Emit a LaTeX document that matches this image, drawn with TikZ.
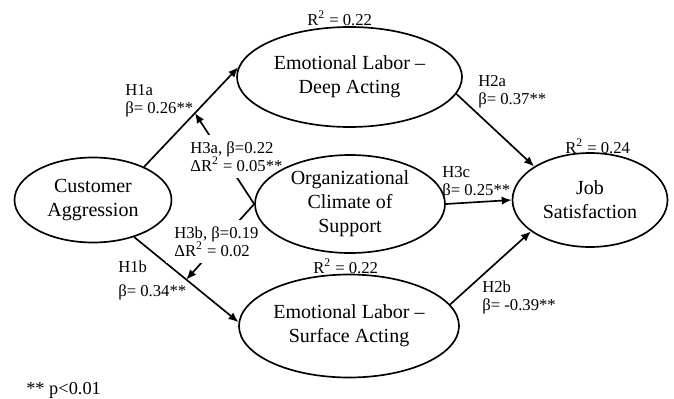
\documentclass[tikz,border=0pt]{standalone}
\usepackage{fontspec}
\setmainfont{Liberation Serif}
\usepackage{tikz}
\usetikzlibrary{shapes,positioning,arrows.meta,calc,backgrounds}

\begin{document}
\begin{tikzpicture}[x=0.6pt,y=-0.6pt,
	latent/.style={ellipse,draw,line width=1pt,inner sep=0pt,align=center,font=\fontsize{12}{14.4}\selectfont},
	hyp/.style={line width=1pt,-{Latex[length=6pt,width=5pt]}},
	lbl/.style={align=left,anchor=base west,inner sep=0pt,font=\fontsize{10}{10.8}\selectfont},
	cover/.style={lbl,fill=white,inner xsep=5pt,inner ysep=4pt}]
	\useasboundingbox (0,0) rectangle (674,398);

	\node[latent,minimum width=94.2pt,minimum height=51pt] (cust) at (93,200) {Customer\\Aggression};
	\node[latent,minimum width=135pt,minimum height=60pt] (deep) at (349.5,77) {Emotional Labor --\\Deep Acting};
	\node[latent,minimum width=114pt,minimum height=58.8pt] (org) at (350,204) {Organizational\\Climate of\\Support};
	\node[latent,minimum width=132pt,minimum height=61.8pt] (surf) at (349,326) {Emotional Labor --\\Surface Acting};
	\node[latent,minimum width=93pt,minimum height=56.4pt] (job) at (590,200) {Job\\Satisfaction};

	\draw[hyp] (cust.33) -- (deep.175) coordinate[pos=0.54] (m1);
	\draw[hyp] (deep.-9) -- (job.149);
	\draw[hyp] (org.east) -- (job.west);
	\draw[hyp] (surf.12) -- (job.-152);

	% moderation paths sit under the label boxes
	\begin{scope}[on background layer]
		\draw[hyp] (cust.-42) -- (surf.178) coordinate[pos=0.5] (m2);
		\draw[hyp] (org.west) -- (m1);
		\draw[hyp] (org.west) -- (m2);
		\node[cover] (h3a) at (181.7,171) {H3a, β=0.22\\ΔR\textsuperscript{2} = 0.05**};
		\node[cover] (h3b) at (165.7,256) {H3b, β=0.19\\ΔR\textsuperscript{2} = 0.02};
	\end{scope}

	\node[lbl] (r2deep) at (307,25) {R\textsuperscript{2} = 0.22};
	\node[lbl] (h1a) at (125,113) {H1a\\β= 0.26**};
	\node[lbl] (h2a) at (478,104) {H2a\\β= 0.37**};
	\node[lbl] (r2job) at (565,153) {R\textsuperscript{2} = 0.24};
	\node[lbl] (h3c) at (442,195) {H3c\\β= 0.25**};
	\node[lbl] (h1b) at (118,296) {H1b\\[3.6pt]β= 0.34**};
	\node[lbl] (r2surf) at (313,273) {R\textsuperscript{2} = 0.22};
	\node[lbl] (h2b) at (482,310) {H2b\\β= -0.39**};
	\node[lbl,font=\fontsize{11}{13}\selectfont] (note) at (26,394) {** p<0.01};
\end{tikzpicture}
\end{document}
